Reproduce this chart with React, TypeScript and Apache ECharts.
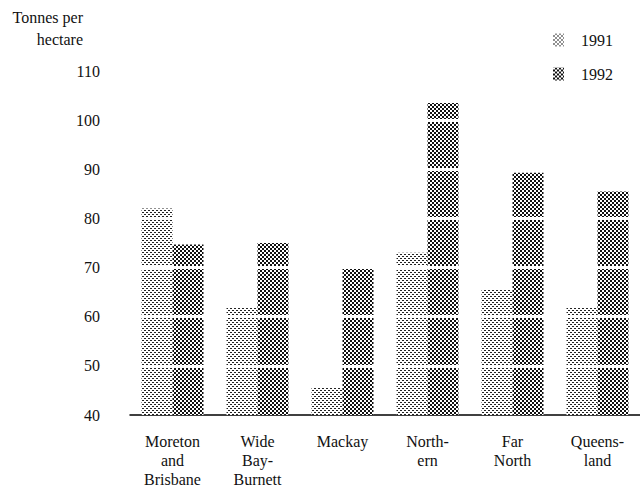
import React, { useEffect, useRef } from "react";
import * as echarts from "echarts";

const categories = [
  "Moreton\nand\nBrisbane",
  "Wide\nBay-\nBurnett",
  "Mackay",
  "North-\nern",
  "Far\nNorth",
  "Queens-\nland",
];
const values1991 = [82, 62, 45.5, 73, 65.5, 62];
const values1992 = [74.7, 75, 70.3, 103.5, 89.3, 85.5];
const gridValues = [50, 60, 70, 80, 90, 100];

const lightDecal = {
  symbol: "rect",
  symbolSize: 1,
  color: "#222222",
  dashArrayX: [
    [2, 2],
    [0, 2, 2, 0],
  ],
  dashArrayY: [1, 1],
  rotation: 0,
};
const darkDecal = {
  symbol: "rect",
  symbolSize: 1,
  color: "#111111",
  dashArrayX: [
    [2, 2],
    [0, 2, 2, 0],
  ],
  dashArrayY: [2, 0],
  rotation: 0,
};

export default function App() {
  const ref = useRef<HTMLDivElement>(null);
  useEffect(() => {
    if (!ref.current) return;
    const chart = echarts.init(ref.current, null, { renderer: "svg" });
    const font = "'Liberation Serif', 'Times New Roman', serif";
    chart.setOption({
      animation: false,
      backgroundColor: "#ffffff",
      textStyle: { fontFamily: font },
      grid: { left: 130, right: 0, top: 71, bottom: 82, containLabel: false },
      legend: {
        orient: "vertical",
        right: 22,
        top: 27,
        itemWidth: 11,
        itemHeight: 13,
        itemGap: 18,
        icon: "rect",
        textStyle: {
          fontFamily: font,
          fontSize: 16,
          color: "#111",
          padding: [0, 0, 0, 12],
        },
      },
      graphic: [
        {
          type: "text",
          right: 640 - 83,
          top: 9,
          style: { text: "Tonnes per", font: `16px ${font}`, fill: "#111" },
        },
        {
          type: "text",
          right: 640 - 83,
          top: 31,
          style: { text: "hectare", font: `16px ${font}`, fill: "#111" },
        },
      ],
      xAxis: {
        type: "category",
        data: categories,
        axisLine: { show: true, lineStyle: { color: "#000", width: 1.5 } },
        axisTick: { show: false },
        axisLabel: {
          interval: 0,
          fontFamily: font,
          fontSize: 16,
          color: "#111",
          lineHeight: 19,
          margin: 17,
        },
      },
      yAxis: {
        type: "value",
        min: 40,
        max: 110,
        interval: 10,
        axisLine: { show: false },
        axisTick: { show: false },
        splitLine: { show: false },
        axisLabel: { fontFamily: font, fontSize: 16, color: "#111", margin: 30 },
      },
      series: [
        {
          name: "1991",
          type: "bar",
          data: values1991,
          barWidth: 31,
          barGap: "0%",
          itemStyle: { color: "#ffffff", decal: lightDecal },
        },
        {
          name: "1992",
          type: "bar",
          data: values1992,
          barWidth: 31,
          barGap: "0%",
          itemStyle: { color: "#ffffff", decal: darkDecal },
          markLine: {
            silent: true,
            symbol: "none",
            label: { show: false },
            lineStyle: { color: "#ffffff", width: 3, type: "solid" },
            data: gridValues.map((v) => ({ yAxis: v })),
          },
        },
      ],
    });
    return () => chart.dispose();
  }, []);
  return (
    <div
      ref={ref}
      style={{ position: "absolute", left: 0, top: 0, width: 640, height: 497 }}
    />
  );
}
